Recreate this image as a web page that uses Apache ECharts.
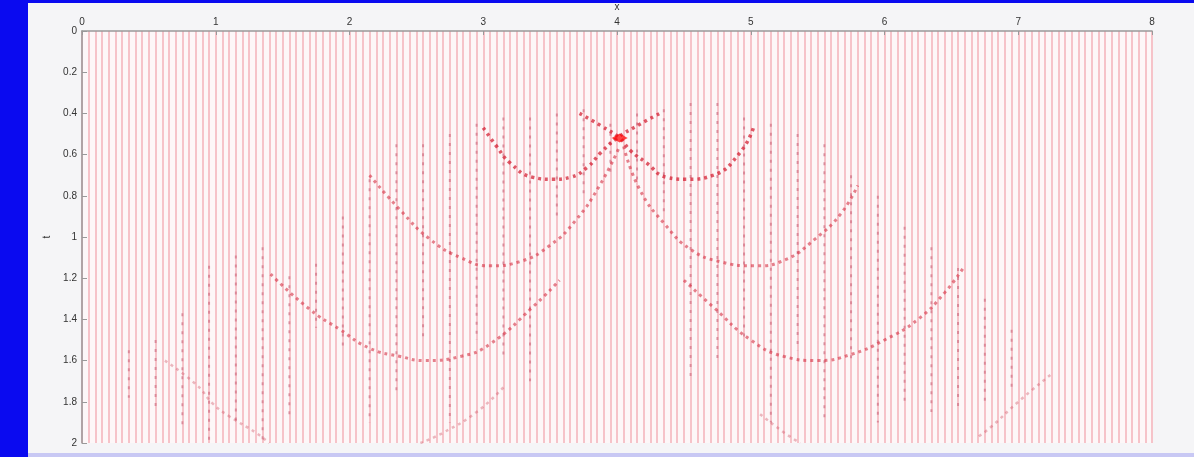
<!DOCTYPE html>
<html><head><meta charset="utf-8">
<script src="https://cdn.jsdelivr.net/npm/echarts@6/dist/echarts.min.js"></script>
<style>html,body{margin:0;padding:0;background:#f5f5f7;}#c{width:1194px;height:457px;}</style>
</head><body><div id="c"></div>
<script>
// axis ticks
const xTicks = [0,1,2,3,4,5,6,7,8];
const tTicks = [0,0.2,0.4,0.6,0.8,1,1.2,1.4,1.6,1.8,2];
const traceSpacing = 0.05; // distance between traces along x

// arcs: [x, t]
const arcA = [[3.0,0.47],[3.1,0.56],[3.2,0.64],[3.37,0.71],[3.52,0.72],[3.65,0.71],[3.78,0.66],[3.88,0.59],[4.0,0.52],[4.15,0.46],[4.32,0.40]];
const arcB = [[3.72,0.40],[3.88,0.46],[4.02,0.52],[4.1,0.58],[4.22,0.64],[4.37,0.71],[4.52,0.72],[4.72,0.70],[4.92,0.59],[5.02,0.47]];
const arcC = [[2.15,0.70],[2.38,0.87],[2.6,1.01],[2.83,1.10],[3.05,1.14],[3.27,1.12],[3.5,1.04],[3.69,0.92],[3.87,0.75],[4.02,0.56]];
const arcD = [[4.05,0.56],[4.17,0.77],[4.36,0.94],[4.55,1.06],[4.77,1.12],[5.03,1.14],[5.26,1.11],[5.48,1.01],[5.67,0.89],[5.8,0.75]];
const arcE = [[1.41,1.18],[1.7,1.35],[1.93,1.45],[2.15,1.54],[2.38,1.58],[2.56,1.60],[2.83,1.58],[3.05,1.52],[3.37,1.34],[3.57,1.21]];
const arcF = [[4.5,1.21],[4.72,1.34],[5.0,1.5],[5.25,1.58],[5.5,1.60],[5.75,1.57],[6.0,1.50],[6.25,1.40],[6.45,1.27],[6.6,1.14]];
const arcL1 = [[0.62,1.60],[0.86,1.72],[0.98,1.81],[1.1,1.87],[1.3,1.95],[1.4,2.0]];
const arcL2 = [[3.15,1.73],[2.95,1.85],[2.7,1.95],[2.53,2.0]];
const arcR1 = [[7.24,1.67],[7.0,1.80],[6.8,1.92],[6.7,1.97]];
const arcR2 = [[5.07,1.86],[5.25,1.95],[5.37,2.0]];
const focus = [[4.02,0.52]];

// energetic trace segments: [x, tStart, tEnd]
const traceSegs = [
 [0.35,1.55,1.78],[0.55,1.50,1.82],[0.75,1.37,1.92],[0.95,1.14,2.0],[1.15,1.09,1.92],[1.35,1.05,2.0],
 [1.55,1.19,1.87],[1.75,1.13,1.44],[1.95,0.90,1.55],[2.15,0.72,1.90],[2.35,0.55,1.75],[2.55,0.55,1.50],
 [2.75,0.50,1.90],[2.95,0.45,1.50],[3.15,0.42,1.60],[3.35,0.42,1.70],[3.55,0.40,0.90],[3.75,0.38,0.80],
 [3.95,0.45,0.70],[4.15,0.40,0.75],[4.35,0.38,0.90],[4.55,0.35,1.70],[4.75,0.35,1.60],[4.95,0.42,1.50],
 [5.15,0.45,1.90],[5.35,0.50,1.55],[5.55,0.55,1.90],[5.75,0.70,1.60],[5.95,0.80,1.90],[6.15,0.95,1.80],
 [6.35,1.05,1.85],[6.55,1.15,1.85],[6.75,1.30,1.80],[6.95,1.45,1.75]
];

const arcStyle = (c, w) => ({color:c, width:w, type:[3,4]});
function arcSeries(data, c, w){
  return {type:'line', data, smooth:true, symbol:'none', xAxisIndex:0, yAxisIndex:0,
          lineStyle:arcStyle(c,w), silent:true, z:4};
}
const series = [];
traceSegs.forEach(s=>{
  series.push({type:'line', data:[[s[0],s[1]],[s[0],s[2]]], symbol:'none', silent:true, z:3,
    lineStyle:{color:'rgba(180,50,80,0.4)', width:2, type:[3,6]}});
});
[arcA,arcB].forEach(a=>series.push(arcSeries(a,'rgba(210,20,40,0.7)',3.5)));
[arcC,arcD,arcE,arcF].forEach(a=>series.push(arcSeries(a,'rgba(210,30,50,0.55)',3)));
[arcL1,arcL2,arcR1,arcR2].forEach(a=>series.push(arcSeries(a,'rgba(200,60,80,0.35)',2.5)));
series.push({type:'scatter', data:focus, symbol:'diamond', symbolSize:[16,9], silent:true, z:5,
  itemStyle:{color:'rgba(255,0,0,0.9)'}});

const chart = echarts.init(document.getElementById('c'), null, {renderer:'canvas'});
chart.setOption({
  backgroundColor:'#f5f5f7',
  animation:false,
  graphic:[
    {type:'rect', shape:{x:0,y:0,width:28,height:457}, style:{fill:'#0a0af0'}},
    {type:'rect', shape:{x:0,y:0,width:1194,height:3}, style:{fill:'#0a0af0'}},
    {type:'rect', shape:{x:28,y:453,width:1166,height:4}, style:{fill:'#c8c8f4'}}
  ],
  grid:{left:82, top:31, width:1070, height:412, show:true, backgroundColor:'#fdf7f8', borderWidth:0,
        outerBoundsMode:'none', containLabel:false},
  xAxis:[
    {type:'value', position:'top', min:0, max:8, interval:1, name:'x', nameLocation:'middle', nameGap:18,
     nameTextStyle:{fontSize:10, color:'#333', fontFamily:'Liberation Sans'},
     axisLine:{show:true, onZero:false, lineStyle:{color:'#999', width:1.5}},
     axisTick:{show:true, inside:true, length:4, lineStyle:{color:'#999'}},
     axisLabel:{fontSize:10, color:'#333', margin:4, fontFamily:'Liberation Sans',
       formatter:v=>xTicks.includes(v)?String(v):''},
     splitLine:{show:false}},
    {type:'value', position:'top', min:0, max:8, interval:traceSpacing, show:true,
     axisLine:{show:false}, axisTick:{show:false}, axisLabel:{show:false},
     splitLine:{show:true, lineStyle:{color:'#f6c3c9', width:2}}}
  ],
  yAxis:{type:'value', inverse:true, min:0, max:2, interval:0.2, name:'t', nameLocation:'middle', nameGap:30,
     nameTextStyle:{fontSize:10, color:'#333', fontFamily:'Liberation Sans'},
     axisLine:{show:true, onZero:false, lineStyle:{color:'#999', width:1.5}},
     axisTick:{show:true, inside:true, length:5, lineStyle:{color:'#999'}},
     axisLabel:{fontSize:10, color:'#333', margin:5, fontFamily:'Liberation Sans',
       formatter:v=>{const f=tTicks.find(t=>Math.abs(t-v)<1e-6);return f===undefined?'':String(f);}},
     splitLine:{show:false}},
  series
});
</script></body></html>
